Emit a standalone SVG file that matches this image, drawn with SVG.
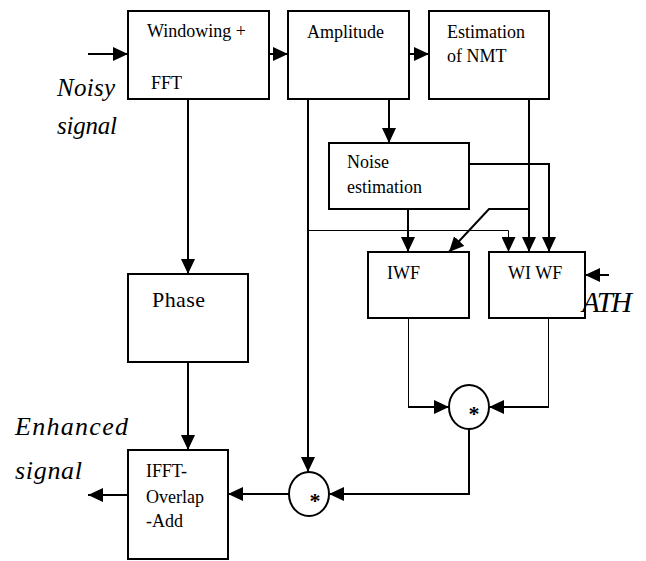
<svg xmlns="http://www.w3.org/2000/svg" width="646" height="561" viewBox="0 0 646 561">
<style>
.box{fill:#fff;stroke:#000;stroke-width:2}
.t{font-size:18px;fill:#000}
.it{font-style:italic;fill:#000}
.c{fill:none;stroke:#000;stroke-width:2}
.thin{fill:none;stroke:#000;stroke-width:1}
.ast{font-size:22px;font-weight:bold;text-anchor:middle;fill:#000}
</style>
<defs>
<marker id="ah" viewBox="0 0 15 14" refX="15" refY="7" markerWidth="15" markerHeight="14" markerUnits="userSpaceOnUse" orient="auto">
<path d="M0,0 L15,7 L0,14 z" fill="#000"/>
</marker>
</defs>
<rect width="646" height="561" fill="#fff"/>
<g id="connectors">
<path class="c" d="M88,54 H128" marker-end="url(#ah)"/>
<path class="c" d="M269,54 H288" marker-end="url(#ah)"/>
<path class="c" d="M409,54 H429" marker-end="url(#ah)"/>
<path class="c" d="M188,99 V274" marker-end="url(#ah)"/>
<path class="c" d="M188,362 V450" marker-end="url(#ah)"/>
<path class="c" d="M389,99 V143" marker-end="url(#ah)"/>
<path class="c" d="M308,99 V472" marker-end="url(#ah)"/>
<path class="thin" d="M308,230.5 H508.5 V252" marker-end="url(#ah)"/>
<path class="c" d="M529,99 V252" marker-end="url(#ah)"/>
<path class="c" d="M469,164 H549 V252" marker-end="url(#ah)"/>
<path class="c" d="M529,209 H489 L449,252" marker-end="url(#ah)"/>
<path class="c" d="M408,209 V252" marker-end="url(#ah)"/>
<path class="thin" d="M408.5,318 V407"/>
<path class="c" d="M408,407 H449" marker-end="url(#ah)"/>
<path class="thin" d="M548.5,318 V407"/>
<path class="c" d="M549,407 H489" marker-end="url(#ah)"/>
<path class="c" d="M609,275 H585" marker-end="url(#ah)"/>
<path class="c" d="M469,429 V494 H329" marker-end="url(#ah)"/>
<path class="c" d="M289,494 H228" marker-end="url(#ah)"/>
<path class="c" d="M128,495 H88" marker-end="url(#ah)"/>
</g>
<g font-family="Liberation Serif, serif">
<g id="windowing">
<rect class="box" x="128" y="11" width="141" height="88"/>
<text class="t" x="147" y="37">Windowing +</text>
<text class="t" x="151" y="89">FFT</text>
</g>
<g id="amplitude">
<rect class="box" x="288" y="11" width="121" height="88"/>
<text class="t" x="307" y="38">Amplitude</text>
</g>
<g id="nmt">
<rect class="box" x="429" y="11" width="120" height="88"/>
<text class="t" x="447" y="38">Estimation</text>
<text class="t" x="447" y="62">of NMT</text>
</g>
<g id="noise">
<rect class="box" x="329" y="143" width="140" height="66"/>
<text class="t" x="347" y="168">Noise</text>
<text class="t" x="347" y="193">estimation</text>
</g>
<g id="iwf">
<rect class="box" x="368" y="252" width="101" height="66"/>
<text class="t" x="387" y="279">IWF</text>
</g>
<g id="wiwf">
<rect class="box" x="489" y="252" width="96" height="66"/>
<text class="t" x="508" y="279">WI WF</text>
</g>
<g id="phase">
<rect class="box" x="128" y="274" width="120" height="88"/>
<text class="t" x="152" y="307" style="font-size:22px" textLength="53">Phase</text>
</g>
<g id="ifft">
<rect class="box" x="128" y="450" width="100" height="109"/>
<text class="t" x="146" y="477" textLength="41">IFFT-</text>
<text class="t" x="146" y="503">Overlap</text>
<text class="t" x="146" y="527">-Add</text>
</g>
<g id="mult1">
<ellipse cx="469" cy="407" rx="20" ry="22" fill="#fff" stroke="#000" stroke-width="2"/>
<text class="ast" x="474" y="421">*</text>
</g>
<g id="mult2">
<ellipse cx="309" cy="494" rx="20" ry="22" fill="#fff" stroke="#000" stroke-width="2"/>
<text class="ast" x="315" y="508">*</text>
</g>
<g id="labels">
<text class="it" x="57" y="96" font-size="25" textLength="58">Noisy</text>
<text class="it" x="57" y="134" font-size="25" textLength="60">signal</text>
<text class="it" x="582" y="312" font-size="29" textLength="50">ATH</text>
<text class="it" x="15" y="435" font-size="26" textLength="113">Enhanced</text>
<text class="it" x="15" y="479" font-size="26" textLength="67">signal</text>
</g>
</g>
</svg>
